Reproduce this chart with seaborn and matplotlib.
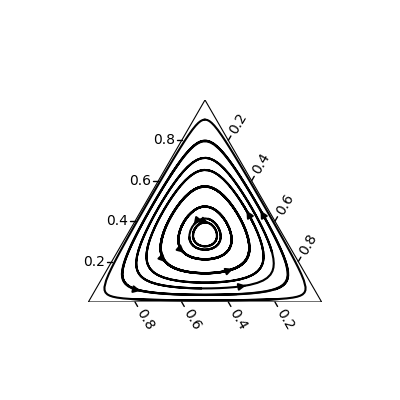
import numpy as np
import matplotlib
matplotlib.use('Agg')
import matplotlib.pyplot as plt
import seaborn as sns

# Macierz wypłat (kamień-papier-nożyce) dla składowych (t, l, r)
payoff = np.array([[0, -1, 1],
                   [1, 0, -1],
                   [-1, 1, 0]])
# Stany początkowe trajektorii (udział t i r, l = 1 - t - r)
# orbita zewnętrzna (bez strzałki)
outer_t = [0.903]
outer_r = [0.0485]
# orbity środkowe (ze strzałkami)
start_t = [0.068, 0.438, 0.085, 0.438, 0.204, 0.170, 0.250]
start_r = [0.153, 0.526, 0.650, 0.466, 0.224, 0.548, 0.280]
# małe pierścienie wokół środka
inner_t = [0.390, 0.376]
inner_r = [0.262, 0.278]
tick_values = [0.2, 0.4, 0.6, 0.8]
tick_labels = ['0.2', '0.4', '0.6', '0.8']

sns.set_style('white')
plt.rcParams['font.family'] = ['DejaVu Sans']
plt.rcParams['text.color'] = 'black'

h = np.sqrt(3) / 2

# Siatka kartezjańska i przejście na współrzędne barycentryczne
xs = np.linspace(0, 1, 200)
ys = np.linspace(0, h, 180)
X, Y = np.meshgrid(xs, ys)
T = Y / h
R = X - T / 2
L = 1 - T - R
P = np.stack([T, L, R])

# Dynamika replikatorowa
fit = np.einsum('ij,jab->iab', payoff, P)
avg = (P * fit).sum(axis=0)
dP = P * (fit - avg)
U = dP[2] + dP[0] / 2
V = dP[0] * h
outside = (T < -1e-9) | (L < -1e-9) | (R < -1e-9)
U = np.ma.masked_where(outside, U)
V = np.ma.masked_where(outside, V)


def to_xy(t, r):
    t = np.array(t)
    r = np.array(r)
    return np.column_stack([r + t / 2, t * h])


fig = plt.figure(figsize=(4, 4), dpi=100)
ax = fig.add_axes([0.22, 0.245, 0.585, 0.505])
ax.streamplot(X, Y, U, V, color='black', linewidth=1.5, arrowstyle='-',
              start_points=to_xy(outer_t, outer_r), broken_streamlines=False,
              maxlength=3.5)
ax.streamplot(X, Y, U, V, color='black', linewidth=1.5, arrowsize=1.0,
              start_points=to_xy(start_t, start_r), broken_streamlines=False,
              maxlength=3.5)
ax.streamplot(X, Y, U, V, color='black', linewidth=1.5, arrowsize=1.0,
              start_points=to_xy(inner_t, inner_r), broken_streamlines=False,
              maxlength=0.8)

# Ramka trójkąta
ax.add_patch(plt.Polygon([[0, 0], [1, 0], [0.5, h]], closed=True,
                         fill=False, edgecolor='black', linewidth=0.8))
ax.set_xlim(0, 1)
ax.set_ylim(0, h)
ax.set_aspect('equal')
ax.axis('off')

tl = 0.022
gap = 0.016
c60, s60 = 0.5, h
for v, lab in zip(tick_values, tick_labels):
    # oś t (lewa krawędź)
    x0, y0 = v / 2, v * h
    ax.plot([x0, x0 - tl], [y0, y0], color='black', lw=1, clip_on=False)
    ax.text(x0 - tl - 0.008, y0, lab, ha='right', va='center', fontsize=10)
    # oś l (dolna krawędź)
    x0, y0 = 1 - v, 0
    ax.plot([x0, x0 + tl * c60], [y0, y0 - tl * s60], color='black', lw=1,
            clip_on=False)
    ax.text(x0 + (tl + gap) * c60, y0 - (tl + gap) * s60, lab, ha='left',
            va='center', rotation=-60, rotation_mode='anchor', fontsize=10)
    # oś r (prawa krawędź)
    x0, y0 = 0.5 + v / 2, (1 - v) * h
    ax.plot([x0, x0 + tl * c60], [y0, y0 + tl * s60], color='black', lw=1,
            clip_on=False)
    ax.text(x0 + (tl + gap) * c60, y0 + (tl + gap) * s60, lab, ha='left',
            va='center', rotation=60, rotation_mode='anchor', fontsize=10)

plt.savefig('out.png', dpi=100)
